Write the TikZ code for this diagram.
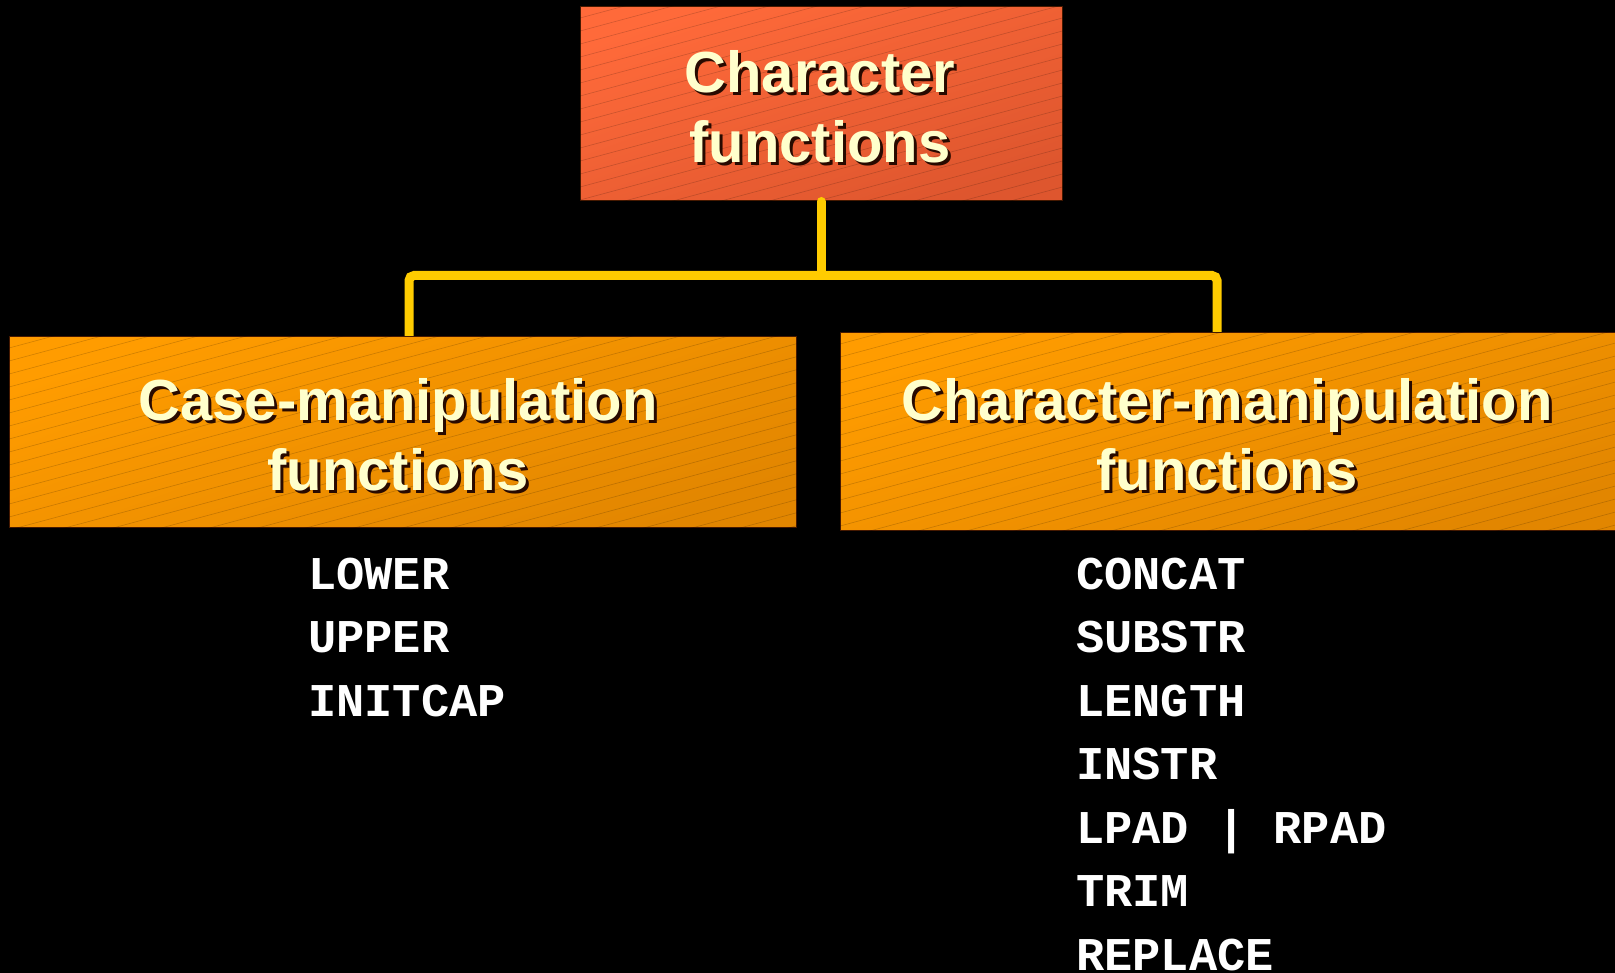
\documentclass[tikz,border=0pt]{standalone}
\usepackage{fontspec}
\setmainfont{Liberation Sans}
\setmonofont{Liberation Mono}
\usetikzlibrary{calc}

\definecolor{redtop}{RGB}{255,106,58}
\definecolor{redbot}{RGB}{222,86,46}
\definecolor{ortop}{RGB}{255,156,0}
\definecolor{orbot}{RGB}{226,134,0}
\definecolor{headtext}{RGB}{255,255,204}
\definecolor{headshadow}{RGB}{40,10,0}
\definecolor{connyellow}{RGB}{255,204,0}
\definecolor{boxedge}{RGB}{70,25,0}

\tikzset{
  box/.style={draw=boxedge, line width=1pt, inner sep=0pt, shading=axis,
              shading angle=20},
  redbox/.style={box, top color=redtop, bottom color=redbot, shading angle=20},
  orbox/.style={box, top color=ortop, bottom color=orbot, shading angle=20},
  hatch/.style={line width=0.6pt, black, opacity=0.18},
  headfont/.style={font=\fontsize{58}{70}\selectfont\bfseries, align=center, inner sep=0pt},
  headlabel/.style={headfont, text=headtext},
  headshade/.style={headfont, text=headshadow},
  conn/.style={draw=connyellow, line width=9pt, line cap=round, rounded corners=5pt},
  fn/.style={font=\fontsize{47}{56}\selectfont\ttfamily\bfseries, text=white,
             inner sep=0pt, anchor=base west}
}

\newcommand{\hatchbox}[1]{%
  \begin{scope}
    \clip (#1.south west) rectangle (#1.north east);
    \foreach \k in {-2,...,40}
      \draw[hatch] ($(#1.north west)+(-5,\k*13)$) -- ++(820,-221);
  \end{scope}}

\begin{document}
\begin{tikzpicture}[x=1pt,y=-1pt]
  \useasboundingbox (0,0) rectangle (1615,973);
  \fill[black] (0,0) rectangle (1615,973);
  \clip (0,0) rectangle (1615,973);

  % root box
  \node[redbox, minimum width=482pt, minimum height=194pt] (root) at (821,104) {};
  \hatchbox{root}

  % tree connector: stem from the root, then one bar across to both children
  \path (root.south) ++(0,74) coordinate (joint);
  \coordinate (dropL) at (409,337);
  \coordinate (dropR) at (1217,333);
  \draw[conn] (root.south) -- (joint);
  \draw[conn] (dropL) |- (joint) -| (dropR);

  % second level boxes
  \node[orbox, minimum width=787pt, minimum height=190pt] (casebox) at (402.5,432) {};
  \hatchbox{casebox}
  \node[orbox, minimum width=790pt, minimum height=197pt] (charbox) at (1235,431.5) {};
  \hatchbox{charbox}

  % headings with drop shadow
  \node[headshade] (rootS) at (823,110) {Character\\functions};
  \node[headlabel] (rootT) at (820,107) {Character\\functions};
  \node[headshade] (caseS) at (401,438) {Case-manipulation\\functions};
  \node[headlabel] (caseT) at (398,435) {Case-manipulation\\functions};
  \node[headshade] (charS) at (1230,438) {Character-manipulation\\functions};
  \node[headlabel] (charT) at (1227,435) {Character-manipulation\\functions};

  % case-manipulation functions
  \node[fn] (lower)   at (308,589)   {LOWER};
  \node[fn] (upper)   at (308,652.5) {UPPER};
  \node[fn] (initcap) at (308,716)   {INITCAP};

  % character-manipulation functions
  \node[fn] (concat)  at (1076,589)   {CONCAT};
  \node[fn] (substr)  at (1076,652.5) {SUBSTR};
  \node[fn] (length)  at (1076,716)   {LENGTH};
  \node[fn] (instr)   at (1076,779.5) {INSTR};
  \node[fn] (pad)     at (1076,843)   {LPAD | RPAD};
  \node[fn] (trim)    at (1076,906.5) {TRIM};
  \node[fn] (replace) at (1076,970)   {REPLACE};
\end{tikzpicture}
\end{document}
